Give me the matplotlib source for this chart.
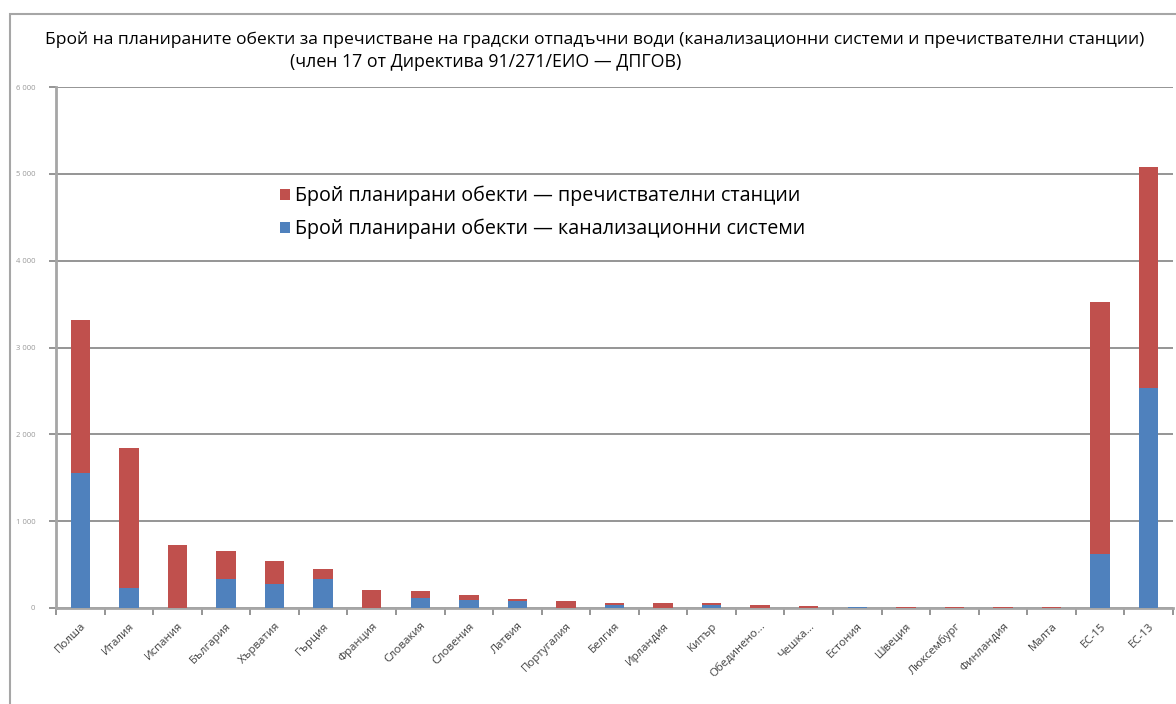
import matplotlib
matplotlib.use("Agg")
import matplotlib.pyplot as plt
from matplotlib.patches import Rectangle
import numpy as np

plt.rcParams['font.family'] = ['Open Sans', 'DejaVu Sans']

categories = ["Полша", "Италия", "Испания", "България", "Хърватия", "Гърция",
              "Франция", "Словакия", "Словения", "Латвия", "Португалия", "Белгия",
              "Ирландия", "Кипър", "Обединено...", "Чешка...", "Естония", "Швеция",
              "Люксембург", "Финландия", "Малта", "ЕС-15", "ЕС-13"]
sewer = [1560, 225, 0, 333, 271, 329, 0, 115, 92, 80, 0, 38, 0, 38, 0, 3, 9, 2, 1, 1, 5, 620, 2534]
plants = [1760, 1615, 724, 322, 269, 123, 202, 85, 54, 20, 84, 23, 57, 22, 40, 22, 3, 10, 8, 5, 1, 2900, 2546]
yticks = [0, 1000, 2000, 3000, 4000, 5000, 6000]
ytick_labels = ["0", "1 000", "2 000", "3 000", "4 000", "5 000", "6 000"]
title_line1 = "Брой на планираните обекти за пречистване на градски отпадъчни води (канализационни системи и пречиствателни станции)"
title_line2 = "(член 17 от Директива 91/271/ЕИО — ДПГОВ)"
legend_labels = ["Брой планирани обекти — пречиствателни станции",
                 "Брой планирани обекти — канализационни системи"]

W, H = 1176, 704
fig = plt.figure(figsize=(W / 100, H / 100), dpi=100)
fig.patch.set_facecolor("white")

# chart border
fig.patches.append(Rectangle((10 / W, -0.05), 1.2, 1 - 14 / H + 0.05, transform=fig.transFigure,
                             fill=False, edgecolor="#a6a6a6", linewidth=1.5, zorder=0))

ax = fig.add_axes([56 / W, 1 - 608 / H, (1173 - 56) / W, (608 - 87) / H])
x = np.arange(len(categories))
blue = "#4f81bd"
red = "#c0504d"
b1 = ax.bar(x, sewer, width=0.4, color=blue, zorder=3)
b2 = ax.bar(x, plants, width=0.4, bottom=sewer, color=red, zorder=3)

ax.set_xlim(-0.5, len(categories) - 0.5)
ax.set_ylim(0, 6000)
ax.set_yticks(yticks)
ax.set_yticklabels(ytick_labels, fontsize=5.5, color="#9a9a9a")
ax.yaxis.grid(True, color="#8c8c8c", linewidth=1.3, zorder=0)
ax.set_axisbelow(True)
for s in ["top", "right"]:
    ax.spines[s].set_visible(False)
for s in ["left", "bottom"]:
    ax.spines[s].set_color("#a6a6a6")
    ax.spines[s].set_linewidth(2)
ax.tick_params(axis="y", length=5, width=1.3, color="#8c8c8c", pad=10)

# category ticks between categories
ax.set_xticks(x)
ax.set_xticklabels(categories, rotation=45, ha="right", rotation_mode="anchor",
                   fontsize=8.2, color="#404040")
ax.tick_params(axis="x", length=0, pad=9)
ax.set_xticks(np.arange(len(categories) + 1) - 0.5, minor=True)
ax.tick_params(axis="x", which="minor", length=5, width=1.3, color="#8c8c8c")

fig.text(45 / W, 1 - 44 / H, title_line1, fontsize=12.6, color="black", ha="left", va="baseline")
fig.text(290 / W, 1 - 67 / H, title_line2, fontsize=12.8, color="black", ha="left", va="baseline")

leg = ax.legend([b2, b1], legend_labels, loc="upper left",
                bbox_to_anchor=((280 - 56) / (1173 - 56), (608 - 186) / (608 - 87)),
                frameon=False, fontsize=14.2, handlelength=0.5, handleheight=0.5,
                handletextpad=0.25, labelspacing=0.62, borderpad=0, borderaxespad=0)

fig.savefig("out.png", dpi=100, facecolor="white")
